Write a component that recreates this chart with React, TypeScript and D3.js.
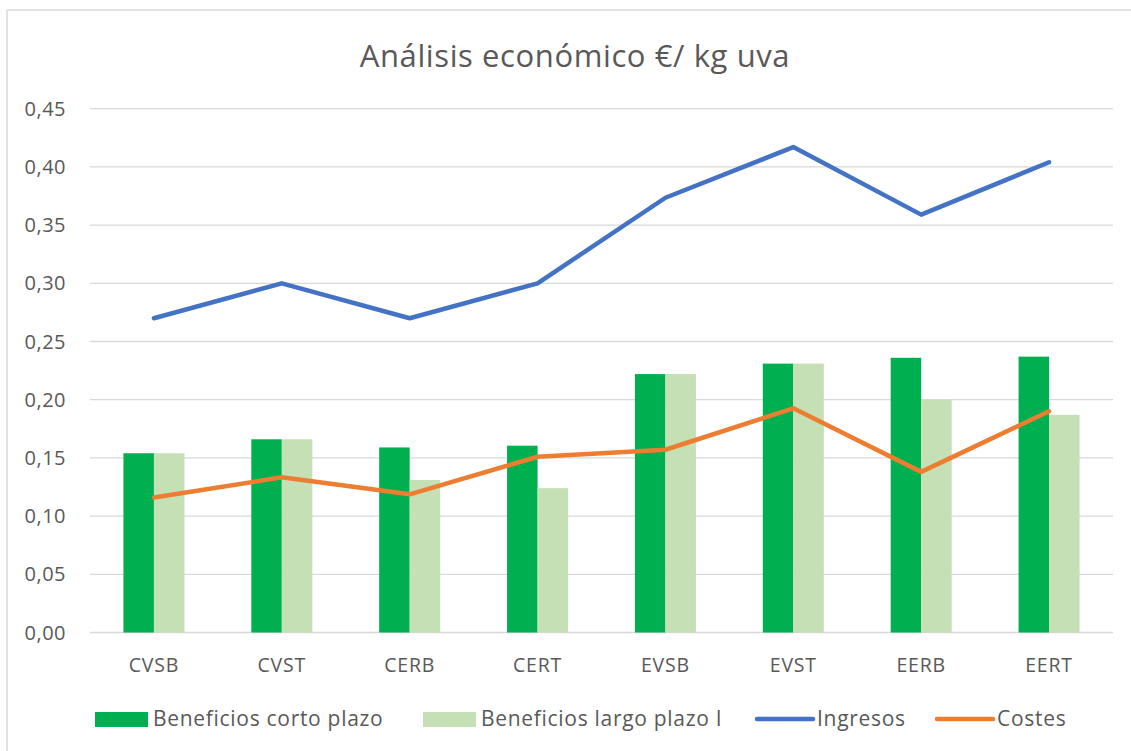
import React from 'react'
import * as d3 from 'd3'

const categories = ['CVSB', 'CVST', 'CERB', 'CERT', 'EVSB', 'EVST', 'EERB', 'EERT']
const beneficiosCorto = [0.154, 0.166, 0.159, 0.1605, 0.222, 0.231, 0.236, 0.237]
const beneficiosLargo = [0.154, 0.166, 0.131, 0.124, 0.222, 0.231, 0.2, 0.187]
const ingresos = [0.27, 0.3, 0.27, 0.3, 0.3735, 0.417, 0.359, 0.404]
const costes = [0.116, 0.1333, 0.1187, 0.151, 0.157, 0.1926, 0.138, 0.19]
const barSeries = ['Beneficios corto plazo', 'Beneficios largo plazo I']
const lineSeries = ['Ingresos', 'Costes']

const W = 1131
const H = 751
const FONT = "'Open Sans', sans-serif"
const TEXT = '#595959'
const GRID = '#D9D9D9'
const colors: Record<string, string> = {
  'Beneficios corto plazo': '#00B050',
  'Beneficios largo plazo I': '#C5E0B4',
  Ingresos: '#4472C4',
  Costes: '#ED7D31',
}

const esLocale = d3.formatLocale({ decimal: ',', thousands: '.', grouping: [3], currency: ['', ' €'] })
const fmt = esLocale.format('.2f')

const App: React.FC = () => {
  const x = d3.scaleBand<string>().domain(categories).range([90, 1113])
  const y = d3.scaleLinear().domain([0, 0.45]).range([632.5, 108.7])
  const sub = d3.scaleBand<string>().domain(barSeries).range([0, 61])
  const cx = (c: string) => (x(c) ?? 0) + x.bandwidth() / 2

  const line = d3
    .line<number>()
    .x((_, i) => cx(categories[i]))
    .y((d) => y(d))

  const barData = [beneficiosCorto, beneficiosLargo]
  const lineData = [ingresos, costes]

  // legend layout
  const legend = [
    { name: barSeries[0], kind: 'bar', x: 95 },
    { name: barSeries[1], kind: 'bar', x: 423 },
    { name: lineSeries[0], kind: 'line', x: 757 },
    { name: lineSeries[1], kind: 'line', x: 937 },
  ]

  return (
    <svg width={W} height={H} style={{ position: 'absolute', left: 0, top: 0, background: '#fff' }}>
      <rect x={0} y={0} width={W} height={H} fill="#fff" />
      {/* chart border */}
      <line x1={7} x2={W} y1={10} y2={10} stroke={GRID} strokeWidth={1.5} />
      <line x1={7} x2={7} y1={10} y2={H} stroke={GRID} strokeWidth={1.5} />

      <text x={575} y={67} textAnchor="middle" fontFamily={FONT} fontSize={31} letterSpacing={0.6} fill={TEXT}>
        Análisis económico €/ kg uva
      </text>

      {/* grid + y axis */}
      {y.ticks(9).map((t) => (
        <g key={t}>
          <line x1={90} x2={1113} y1={y(t)} y2={y(t)} stroke={GRID} strokeWidth={1.3} />
          <text x={66} y={y(t)} dy="0.35em" textAnchor="end" fontFamily={FONT} fontSize={20} letterSpacing={0.5} fill={TEXT}>
            {fmt(t)}
          </text>
        </g>
      ))}

      {/* bars */}
      {barData.map((vals, si) =>
        vals.map((v, i) => (
          <rect
            key={`${si}-${i}`}
            x={cx(categories[i]) - 30.5 + (sub(barSeries[si]) ?? 0)}
            y={y(v)}
            width={sub.bandwidth()}
            height={y(0) - y(v)}
            fill={colors[barSeries[si]]}
          />
        ))
      )}

      {/* lines */}
      {lineData.map((vals, si) => (
        <path
          key={si}
          d={line(vals) ?? ''}
          fill="none"
          stroke={colors[lineSeries[si]]}
          strokeWidth={4.5}
          strokeLinecap="round"
          strokeLinejoin="round"
        />
      ))}

      {/* x labels */}
      {categories.map((c) => (
        <text key={c} x={cx(c)} y={665} dy="0.35em" textAnchor="middle" fontFamily={FONT} fontSize={19.5} letterSpacing={0.8} fill={TEXT}>
          {c}
        </text>
      ))}

      {/* legend */}
      {legend.map((l) => (
        <g key={l.name}>
          {l.kind === 'bar' ? (
            <rect x={l.x} y={712} width={53} height={15} fill={colors[l.name]} />
          ) : (
            <line x1={l.x} x2={l.x + 56} y1={719} y2={719} stroke={colors[l.name]} strokeWidth={4.5} strokeLinecap="round" />
          )}
          <text x={l.x + (l.kind === 'bar' ? 58 : 60)} y={719} dy="0.35em" fontFamily={FONT} fontSize={21} letterSpacing={0.7} fill={TEXT}>
            {l.name}
          </text>
        </g>
      ))}
    </svg>
  )
}

export default App
